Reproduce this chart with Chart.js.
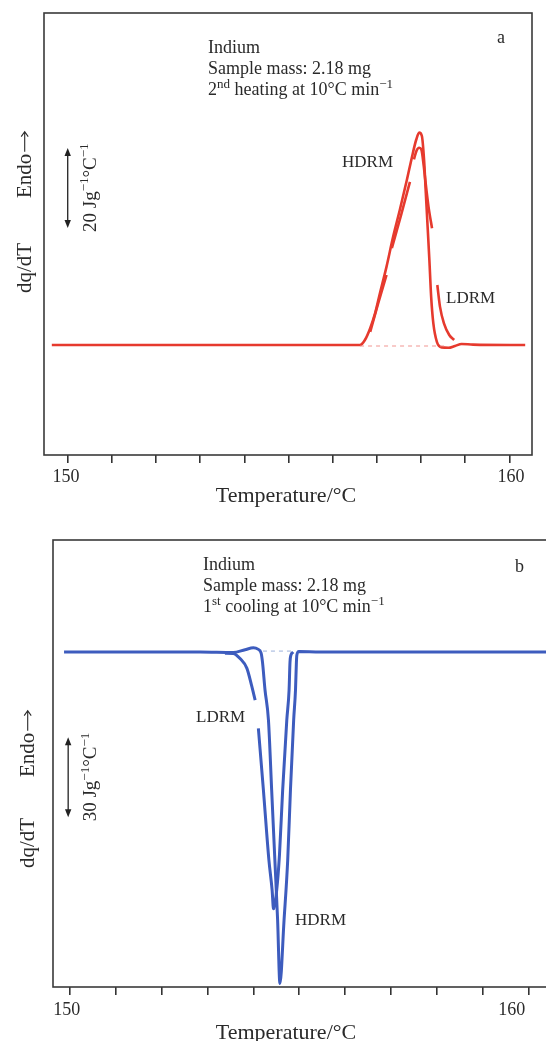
<!DOCTYPE html>
<html>
<head>
<meta charset="utf-8">
<script src="https://cdn.jsdelivr.net/npm/chart.js@4.4.0/dist/chart.umd.min.js"></script>
<style>
  html, body { margin: 0; padding: 0; background: #fff; overflow: hidden; }
  body { width: 546px; height: 1041px; position: relative; }
  canvas { position: absolute; left: 0; }
  #chartA { top: 0; }
  #chartB { top: 520px; }
</style>
</head>
<body>
<canvas id="chartA" width="546" height="520"></canvas>
<canvas id="chartB" width="570" height="521"></canvas>
<script>
// --- DATA (a) 2nd heating ---
const heatTicks = [150, 151, 152, 153, 154, 155, 156, 157, 158, 159, 160];
const heatTickLabels = ['150', '', '', '', '', '', '', '', '', '', '160'];
const heatXRange = [149.463, 160.514];
const heatYRange = [-27.5, 83];

const heatHdrmT = [149.64, 156.62, 156.73, 156.85, 156.96, 157.07, 157.22, 157.37, 157.52, 157.68, 157.79, 157.89, 157.96, 158.02, 158.07, 158.11, 158.15, 158.19, 158.23, 158.28, 158.36, 158.47, 158.62, 158.77, 158.92, 159.18, 160.36];
const heatHdrmY = [0, 0, 1.25, 4.2, 7.9, 12.9, 19.6, 27.1, 33.75, 41.25, 46.7, 51.25, 53.1, 52.25, 46.25, 37.9, 29.6, 21.25, 12.1, 5.4, 0.8, -0.6, -0.7, -0.25, 0.25, 0.1, 0];

// LDRM trace is broken into pieces (null = gap)
const heatLdrmT = [156.85, 157.03, 157.22, null, 157.34, 157.55, 157.75, null, 157.84, 157.90, 157.96, 158.01, 158.06, 158.10, 158.17, 158.25, null, 158.37, 158.43, 158.52, 158.64, 158.75];
const heatLdrmY = [3.3, 10.4, 17.5, null, 24.2, 32.5, 40.8, null, 46.4, 48.6, 49.3, 48.8, 45, 41, 34.6, 29.2, null, 15, 9.6, 5.4, 2.5, 1.25];

const heatGuideT = [156.62, 158.55];
const heatGuideY = [-0.25, -0.25];

const heatBarT = 150;
const heatBarY = [29.25, 49.25]; // 20 J g-1 °C-1

// --- DATA (b) 1st cooling ---
const coolTicks = [150, 151, 152, 153, 154, 155, 156, 157, 158, 159, 160];
const coolTickLabels = ['150', '', '', '', '', '', '', '', '', '', '160'];
const coolXRange = [149.629, 160.604];
const coolYRange = [-125.5, 42];

const coolHdrmT = [149.87, 152.84, 153.56, 153.82, 154.00, 154.10, 154.17, 154.20, 154.255, 154.33, 154.40, 154.47, 154.53, 154.58, 154.67, 154.75, 154.81, 154.88, 154.92, 154.94, 154.95, 154.99, 155.46, 160.6];
const coolHdrmY = [0, 0, -0.2, 0.9, 1.6, 1.1, -0.4, -3.75, -14.2, -25.5, -51.7, -78, -100.5, -124.2, -100.5, -78, -51.7, -25.5, -14.2, -3.75, -1.1, 0.2, 0, 0];

const coolLdrmT = [153.38, 153.56, 153.71, 153.86, 153.96, 154.04, null, 154.11, 154.22, 154.34, 154.41, 154.44, 154.51, 154.57, 154.64, 154.73, 154.78, 154.80, 154.82, 154.87];
const coolLdrmY = [-0.4, -0.5, -2.4, -6.1, -12.4, -18.0, null, -28.6, -51.7, -78, -89.2, -96.2, -89.2, -76.1, -51.7, -25.5, -14.2, -3.75, -1.1, 0];

const coolGuideT = [154.21, 154.84];
const coolGuideY = [0.37, 0.37];

const coolBarT = 149.96;
const coolBarY = [-61.9, -31.9]; // 30 J g-1 °C-1

// --- STYLE ---
const SERIF = '"Liberation Serif", "Times New Roman", serif';
const TEXT = '#2a2a2a';
const RED = '#e63a2e';
const BLUE = '#3d5cbe';

function pts(xs, ys) {
  return xs.map((x, i) => ({ x: x, y: ys[i] }));
}

// text with superscript pieces, returns end x
function drawRich(ctx, parts, x, y, size) {
  let cx = x;
  parts.forEach(p => {
    const s = p.sup ? Math.round(size * 0.7) : size;
    ctx.font = s + 'px ' + SERIF;
    ctx.fillText(p.t, cx, p.sup ? y - size * 0.4 : y);
    cx += ctx.measureText(p.t).width;
  });
  return cx;
}

function drawRotated(ctx, parts, x, y, size, withArrow) {
  ctx.save();
  ctx.translate(x, y);
  ctx.rotate(-Math.PI / 2);
  const end = drawRich(ctx, parts, 0, 0, size);
  if (withArrow) {
    // long text arrow "→"
    const ay = -size * 0.3, a0 = end + 2, a1 = end + 22;
    ctx.strokeStyle = TEXT;
    ctx.lineWidth = 1.1;
    ctx.beginPath();
    ctx.moveTo(a0, ay);
    ctx.lineTo(a1, ay);
    ctx.moveTo(a1 - 5, ay - 3.5);
    ctx.lineTo(a1, ay);
    ctx.lineTo(a1 - 5, ay + 3.5);
    ctx.stroke();
  }
  ctx.restore();
}

function arrowHead(ctx, x, y, dir) {
  ctx.beginPath();
  ctx.moveTo(x, y);
  ctx.lineTo(x - 3.2, y - dir * 8);
  ctx.lineTo(x + 3.2, y - dir * 8);
  ctx.closePath();
  ctx.fill();
}

function decorPlugin(cfg) {
  return {
    id: 'decor',
    afterDraw(chart) {
      const ctx = chart.ctx;
      const a = chart.chartArea;
      const xs = chart.scales.x, ys = chart.scales.y;
      ctx.save();

      // frame
      ctx.strokeStyle = '#3a3a3a';
      ctx.lineWidth = 1.6;
      ctx.strokeRect(a.left, a.top, a.right - a.left, a.bottom - a.top);

      ctx.fillStyle = TEXT;
      ctx.textBaseline = 'alphabetic';

      // tick labels
      ctx.font = '18px ' + SERIF;
      ctx.textAlign = 'center';
      cfg.ticks.forEach((v, i) => {
        if (!cfg.tickLabels[i]) return;
        ctx.fillText(cfg.tickLabels[i], xs.getPixelForValue(v) + cfg.tickShift[i], cfg.tickY);
      });

      // axis title
      ctx.font = '22px ' + SERIF;
      ctx.fillText('Temperature/°C', cfg.titleX, cfg.titleY);
      ctx.textAlign = 'left';

      // info block
      cfg.info.forEach((line, i) => drawRich(ctx, line, cfg.infoX, cfg.infoY[i], 18));
      ctx.font = '18px ' + SERIF;
      ctx.fillText(cfg.panel, cfg.panelPos[0], cfg.panelPos[1]);

      // curve labels
      ctx.font = '17px ' + SERIF;
      cfg.labels.forEach(l => ctx.fillText(l.t, l.x, l.y));

      // y-axis words
      drawRotated(ctx, [{ t: 'dq/dT' }], cfg.yLabelX, cfg.dqY, 21);
      drawRotated(ctx, [{ t: 'Endo' }], cfg.yLabelX, cfg.endoY, 21, true);

      // scale bar
      const bx = xs.getPixelForValue(cfg.barT);
      const b0 = ys.getPixelForValue(cfg.barY[0]);
      const b1 = ys.getPixelForValue(cfg.barY[1]);
      ctx.strokeStyle = '#222';
      ctx.fillStyle = '#222';
      ctx.lineWidth = 1.3;
      ctx.beginPath();
      ctx.moveTo(bx, b1 + 4);
      ctx.lineTo(bx, b0 - 4);
      ctx.stroke();
      arrowHead(ctx, bx, b1, -1);
      arrowHead(ctx, bx, b0, 1);
      ctx.fillStyle = TEXT;
      drawRotated(ctx, [{ t: cfg.barText + ' Jg' }, { t: '−1', sup: true }, { t: '°C' }, { t: '−1', sup: true }], bx + 28, b0 + 4, 19);

      ctx.restore();
    }
  };
}

function makeChart(id, d) {
  return new Chart(document.getElementById(id), {
    type: 'scatter',
    data: {
      datasets: [
        {
          data: pts(d.guideT, d.guideY),
          showLine: true, pointRadius: 0,
          borderColor: d.guideColor, borderWidth: 1.3, borderDash: [4, 4]
        },
        {
          label: 'HDRM',
          data: pts(d.hdrmT, d.hdrmY),
          showLine: true, pointRadius: 0,
          borderColor: d.color, borderWidth: d.width,
          cubicInterpolationMode: 'monotone'
        },
        {
          label: 'LDRM',
          data: pts(d.ldrmT, d.ldrmY),
          showLine: true, pointRadius: 0, spanGaps: false,
          borderColor: d.color, borderWidth: d.width,
          cubicInterpolationMode: 'monotone'
        }
      ]
    },
    options: {
      responsive: false,
      animation: false,
      layout: { padding: d.padding },
      plugins: { legend: { display: false }, tooltip: { enabled: false } },
      scales: {
        x: {
          type: 'linear',
          min: d.xRange[0], max: d.xRange[1],
          afterBuildTicks: s => { s.ticks = d.ticks.map(v => ({ value: v })); },
          afterFit: s => { s.height = d.axisHeight; },
          ticks: { display: false },
          border: { display: false },
          grid: { drawOnChartArea: false, drawTicks: true, tickLength: 8, tickColor: '#333', lineWidth: 1.6 }
        },
        y: {
          display: false,
          min: d.yRange[0], max: d.yRange[1]
        }
      }
    },
    plugins: [decorPlugin(d.decor)]
  });
}

makeChart('chartA', {
  ticks: heatTicks, xRange: heatXRange, yRange: heatYRange,
  hdrmT: heatHdrmT, hdrmY: heatHdrmY, ldrmT: heatLdrmT, ldrmY: heatLdrmY,
  guideT: heatGuideT, guideY: heatGuideY,
  color: RED, width: 2.6, guideColor: 'rgba(240,140,135,0.7)',
  padding: { left: 44, top: 13, right: 14, bottom: 0 },
  axisHeight: 65,
  decor: {
    ticks: heatTicks, tickLabels: heatTickLabels, tickShift: [-1.7, 0, 0, 0, 0, 0, 0, 0, 0, 0, 1.7], tickY: 482,
    titleX: 286, titleY: 502,
    infoX: 208, infoY: [53, 74, 95],
    info: [
      [{ t: 'Indium' }],
      [{ t: 'Sample mass: 2.18 mg' }],
      [{ t: '2' }, { t: 'nd', sup: true }, { t: ' heating at 10°C min' }, { t: '−1', sup: true }]
    ],
    panel: 'a', panelPos: [497, 43],
    labels: [{ t: 'HDRM', x: 342, y: 167 }, { t: 'LDRM', x: 446, y: 303 }],
    yLabelX: 31, dqY: 293, endoY: 198,
    barT: heatBarT, barY: heatBarY, barText: '20'
  }
});

makeChart('chartB', {
  ticks: coolTicks, xRange: coolXRange, yRange: coolYRange,
  hdrmT: coolHdrmT, hdrmY: coolHdrmY, ldrmT: coolLdrmT, ldrmY: coolLdrmY,
  guideT: coolGuideT, guideY: coolGuideY,
  color: BLUE, width: 3, guideColor: 'rgba(160,180,220,0.8)',
  padding: { left: 53, top: 20, right: 14, bottom: 0 },
  axisHeight: 54,
  decor: {
    ticks: coolTicks, tickLabels: coolTickLabels, tickShift: [-3.3, 0, 0, 0, 0, 0, 0, 0, 0, 0, -16.6], tickY: 495,
    titleX: 286, titleY: 519,
    infoX: 203, infoY: [50, 71, 92],
    info: [
      [{ t: 'Indium' }],
      [{ t: 'Sample mass: 2.18 mg' }],
      [{ t: '1' }, { t: 'st', sup: true }, { t: ' cooling at 10°C min' }, { t: '−1', sup: true }]
    ],
    panel: 'b', panelPos: [515, 52],
    labels: [{ t: 'LDRM', x: 196, y: 202 }, { t: 'HDRM', x: 295, y: 405 }],
    yLabelX: 34, dqY: 348, endoY: 257,
    barT: coolBarT, barY: coolBarY, barText: '30'
  }
});
</script>
</body>
</html>
